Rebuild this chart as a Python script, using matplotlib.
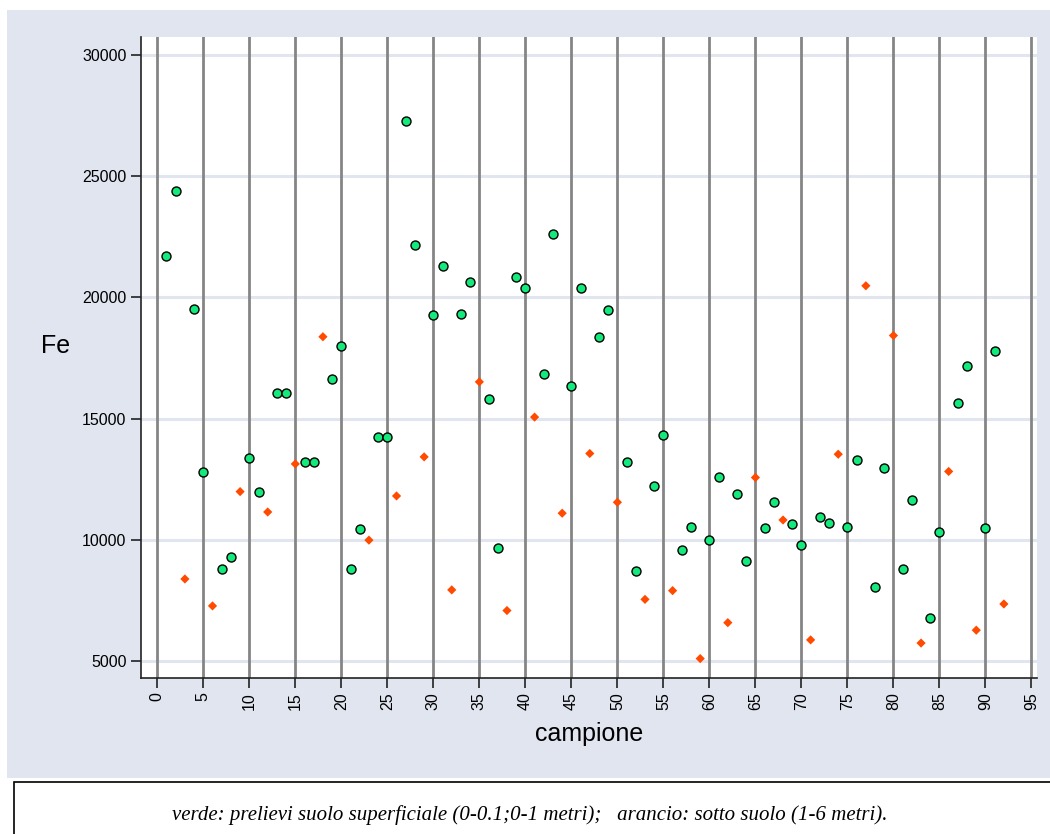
import matplotlib.pyplot as plt
from matplotlib.patches import Rectangle

plt.rcParams["font.family"] = ["Liberation Sans", "DejaVu Sans"]

# campioni superficiali (verde)
green_x = [1, 2, 4, 5, 7, 8, 10, 11, 13, 14, 16, 17, 19, 20, 21, 22, 24, 25, 27, 28,
           30, 31, 33, 34, 36, 37, 39, 40, 42, 43, 45, 46, 48, 49, 51, 52, 54, 55, 57, 58,
           60, 61, 63, 64, 66, 67, 69, 70, 72, 73, 75, 76, 78, 79, 81, 82, 84, 85, 87, 88,
           90, 91]
green_fe = [21700, 24380, 19530, 12810, 8830, 9310, 13375, 12000, 16070, 16070,
            13220, 13220, 16630, 17990, 8810, 10450, 14270, 14270, 27280, 22140,
            19270, 21290, 19310, 20630, 15800, 9670, 20850, 20380, 16850, 22620,
            16360, 20370, 18390, 19490, 13240, 8730, 12230, 14350, 9580, 10560,
            10000, 12590, 11890, 9140, 10520, 11560, 10650, 9790, 10960, 10710,
            10560, 13320, 8070, 12960, 8830, 11670, 6780, 10340, 15630, 17180,
            10520, 17800]

# sotto suolo (arancio)
orange_x = [3, 6, 9, 12, 15, 18, 23, 26, 29, 32, 35, 38, 41, 44, 47, 50, 53, 56, 59, 62,
            65, 68, 71, 74, 77, 80, 83, 86, 89, 92]
orange_fe = [8400, 7290, 12000, 11160, 13140, 18380, 10000, 11820, 13430, 7950,
             16520, 7100, 15070, 11110, 13570, 11560, 7560, 7920, 5120, 6600,
             12580, 10830, 5890, 13540, 20480, 18430, 5760, 12830, 6290, 7370]

x_ticks = list(range(0, 100, 5))
y_ticks = [5000, 10000, 15000, 20000, 25000, 30000]

PANEL = "#e1e5f0"
GREEN = "#12ea7c"
ORANGE = "#ff4a00"

fig = plt.figure(figsize=(10.5, 8.34), dpi=100)
fig.patch.set_facecolor("white")

# sfondo del pannello e riquadro della didascalia
fig.patches.append(Rectangle((7 / 1050, 1 - 778 / 834), 1.0, 768 / 834,
                             transform=fig.transFigure, facecolor=PANEL,
                             edgecolor="none", zorder=-5))
fig.patches.append(Rectangle((14 / 1050, -0.05), 1.0, 0.05 + 52 / 834,
                             transform=fig.transFigure, facecolor="white",
                             edgecolor="black", lw=1.2, zorder=-5))

ax = fig.add_axes([141 / 1050, 1 - 678 / 834, (1037 - 141) / 1050, (678 - 37) / 834])
ax.set_zorder(2)
ax.set_facecolor("white")

ax.set_xlim(-1.77, 95.6)
ax.set_ylim(4320, 30730)
ax.set_xticks(x_ticks)
ax.set_yticks(y_ticks)
ax.set_xticklabels([str(t) for t in x_ticks], rotation=90, fontsize=11.5)
ax.set_yticklabels([str(t) for t in y_ticks], fontsize=11.5)
ax.tick_params(axis="both", direction="out", length=7, width=1.2, color="#222222")

for t in y_ticks:
    ax.axhline(t, color="#e1e5f0", lw=2.2, zorder=1)
for t in x_ticks:
    ax.axvline(t, color="#858585", lw=2.0, zorder=2)

ax.scatter(orange_x, orange_fe, marker="D", s=22, color=ORANGE, edgecolors="none", zorder=3)
ax.scatter(green_x, green_fe, marker="o", s=42, color=GREEN, edgecolors="black",
           linewidths=1.0, zorder=4)

for side in ["top", "right"]:
    ax.spines[side].set_visible(False)
for side in ["left", "bottom"]:
    ax.spines[side].set_color("#222222")
    ax.spines[side].set_linewidth(1.2)

ax.set_xlabel("campione", fontsize=18, labelpad=8)
ax.set_ylabel("Fe", fontsize=18, rotation=0, labelpad=0)
ax.yaxis.set_label_coords(-0.095, 0.5)

fig.text(0.505, 1 - 815 / 834,
         "verde: prelievi suolo superficiale (0-0.1;0-1 metri);   arancio: sotto suolo (1-6 metri).",
         ha="center", va="center", fontsize=15, style="italic", family="Liberation Serif")

fig.savefig("out.png", dpi=100)
